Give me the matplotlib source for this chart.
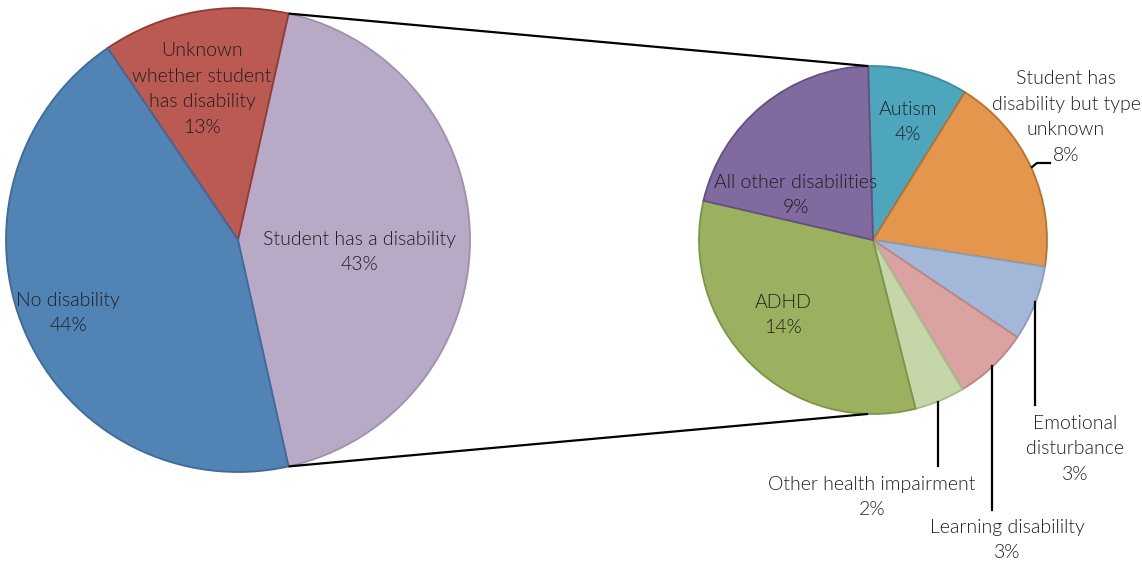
import numpy as np
import matplotlib
matplotlib.use("Agg")
import matplotlib.pyplot as plt

plt.rcParams['font.family'] = ['Lato', 'DejaVu Sans']

# main pie (counter-clockwise starting with the exploded slice)
main_labels = ["Student has a disability", "Unknown\nwhether student\nhas disability", "No disability"]
main_values = [43, 13, 44]
main_colors = ["#B8A9C7", "#BA5A52", "#5283B5"]
main_edges = ["#9D91AE", "#8F3C36", "#3E6A9A"]

# breakdown pie (clockwise from the top)
sub_labels = ["Autism", "Student has\ndisability but type\nunknown", "Emotional\ndisturbance",
              "Learning disabililty", "Other health impairment", "ADHD", "All other disabilities"]
sub_values = [4, 8, 3, 3, 2, 14, 9]
sub_colors = ["#4EA6BC", "#E3964C", "#A3B8D8", "#DAA2A1", "#C5D7A9", "#9BB160", "#806A9F"]
sub_edges = ["#3C8BA0", "#B8722E", "#8B9DBB", "#BB8584", "#A8BA8C", "#7C9444", "#654F82"]

W, H = 1142, 563
fig = plt.figure(figsize=(W / 100, H / 100), dpi=100)
ax = fig.add_axes([0, 0, 1, 1])

c1, r1 = (238, H - 240), 232
c2, r2 = (873, H - 240), 174
start1 = -main_values[0] / sum(main_values) * 180
start2 = 91.6

w1, _ = ax.pie(main_values, colors=main_colors, center=c1, radius=r1,
               startangle=start1, counterclock=True, frame=True)
for w, ec in zip(w1, main_edges):
    w.set_edgecolor(ec)
    w.set_linewidth(1.3)

w2, _ = ax.pie(sub_values, colors=sub_colors, center=c2, radius=r2,
               startangle=start2, counterclock=False, frame=True)
for w, ec in zip(w2, sub_edges):
    w.set_edgecolor(ec)
    w.set_linewidth(1.3)
ax.set_xlim(0, W)
ax.set_ylim(0, H)
ax.set_aspect('equal')
ax.axis('off')

# connector lines between the pies
a = np.deg2rad(-start1)
for s in (1, -1):
    p1 = (c1[0] + r1 * np.cos(a), c1[1] + s * r1 * np.sin(a))
    b = np.deg2rad(start2 if s == 1 else 360 - start2)
    p2 = (c2[0] + r2 * np.cos(b), c2[1] + r2 * np.sin(b))
    ax.plot([p1[0], p2[0]], [p1[1], p2[1]], color="black", lw=1.6, solid_capstyle='butt')

txt = dict(fontsize=14, color="#1e1e1e", ha="center", va="center", linespacing=1.62,
           fontweight=300)

def lab(x, y, name, v):
    ax.text(x, H - y, f"{name}\n{v}%", **txt)

lab(202, 89, main_labels[1], main_values[1])
lab(359, 252, main_labels[0], main_values[0])
lab(68, 313, main_labels[2], main_values[2])

lab(908, 122, sub_labels[0], sub_values[0])
lab(1066, 117, sub_labels[1], sub_values[1])
lab(1075, 449, sub_labels[2], sub_values[2])
lab(1007, 540, sub_labels[3], sub_values[3])
lab(872, 497, sub_labels[4], sub_values[4])
lab(783, 315, sub_labels[5], sub_values[5])
lab(796, 195, sub_labels[6], sub_values[6])

# leader lines for outside labels
leaders = [
    [(1032, 167), (1037, 163), (1050, 163)],
    [(1035, 302), (1035, 405)],
    [(992, 366), (992, 510)],
    [(938, 402), (938, 466)],
]
for pts in leaders:
    xs, ys = zip(*pts)
    ax.plot(xs, [H - y for y in ys], color="black", lw=1.6)

fig.savefig("out.png", dpi=100)
